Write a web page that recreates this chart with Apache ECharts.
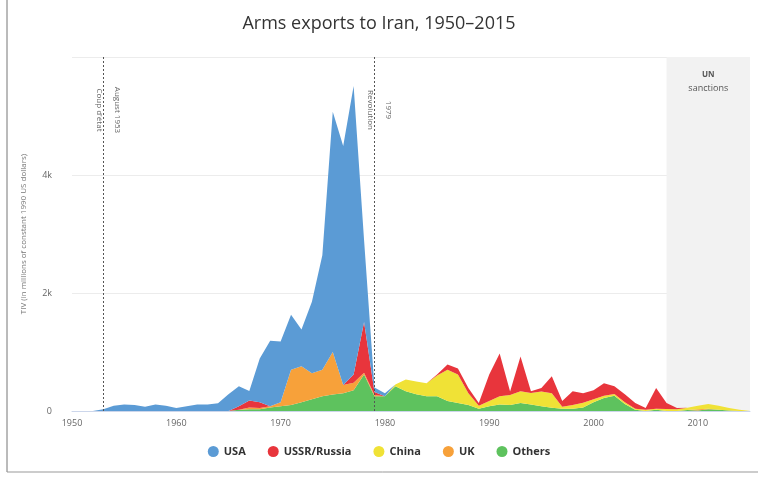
<!DOCTYPE html>
<html>
<head>
<meta charset="utf-8">
<script src="https://cdn.jsdelivr.net/npm/echarts@6/dist/echarts.min.js"></script>
<style>
  html, body { margin: 0; padding: 0; background: #fff; }
  #main { width: 758px; height: 477px; }
</style>
</head>
<body>
<div id="main"></div>
<script>
// years on the x axis
var years = ['1950','1951','1952','1953','1954','1955','1956','1957','1958','1959',
             '1960','1961','1962','1963','1964','1965','1966','1967','1968','1969',
             '1970','1971','1972','1973','1974','1975','1976','1977','1978','1979',
             '1980','1981','1982','1983','1984','1985','1986','1987','1988','1989',
             '1990','1991','1992','1993','1994','1995','1996','1997','1998','1999',
             '2000','2001','2002','2003','2004','2005','2006','2007','2008','2009',
             '2010','2011','2012','2013','2014','2015'];

// TIV, millions
var usa = [0,0,0,30,90,110,100,70,110,90,
           50,80,110,110,130,285,340,160,740,1110,
           1030,930,620,1210,1940,4070,4050,4890,1390,80,
           50,0,0,0,0,0,0,0,0,0,
           0,0,0,0,0,0,0,0,0,0,
           0,0,0,0,0,0,0,0,0,0,
           0,0,0,0,0,0];
var ussr = [0,0,0,0,0,0,0,0,0,0,
            0,0,0,0,0,0,60,120,100,0,
            0,0,0,0,0,0,0,140,860,50,
            0,0,0,0,0,20,90,100,90,45,
            450,725,60,590,30,60,290,100,236,160,
            150,210,130,135,95,30,350,100,20,0,
            0,0,0,0,0,0];
var china = [0,0,0,0,0,0,0,0,0,0,
             0,0,0,0,0,0,0,0,0,0,
             0,0,0,0,0,0,0,0,0,0,
             0,30,200,215,220,350,530,485,200,50,
             90,140,170,200,196,250,245,30,60,80,
             50,40,30,30,20,20,20,35,30,40,
             60,80,70,40,20,0];
var uk = [0,0,0,0,0,0,0,0,0,0,
          0,0,0,0,0,0,0,30,20,20,
          70,600,610,440,450,720,140,130,30,20,
          0,0,0,0,0,0,0,0,0,0,
          0,0,0,0,0,0,0,0,0,0,
          0,0,0,0,0,0,0,0,0,0,
          20,10,0,0,0,0];
var others = [0,0,0,0,0,0,0,0,0,0,
              0,0,0,0,0,0,20,30,30,60,
              80,100,150,200,250,280,300,350,620,250,
              250,420,336,285,250,250,170,135,100,40,
              80,110,100,135,110,80,55,40,40,60,
              150,220,260,120,20,0,20,0,0,15,
              10,30,20,10,0,0];

var events = [['1953', "Coup d'état", 'August 1953'], ['1979', 'Revolution', '1979']];
var embargo = ['2007', '2015'];

var names = ['USA', 'USSR/Russia', 'China', 'UK', 'Others'];
var colors = {'USA': '#5b9bd5', 'USSR/Russia': '#e8353c', 'China': '#f0e236', 'UK': '#f7a13a', 'Others': '#5ec25e'};

function area(name, vals) {
  return {
    name: name,
    type: 'line',
    stack: 'total',
    data: vals,
    showSymbol: false,
    symbol: 'none',
    lineStyle: { width: 0 },
    areaStyle: { color: colors[name], opacity: 1 },
    itemStyle: { color: colors[name] },
    z: 3
  };
}

var myChart = echarts.init(document.getElementById('main'));

var series = [
  // plot band behind the data
  {
    name: 'band',
    type: 'line',
    data: [],
    z: 1,
    markArea: {
      silent: true,
      itemStyle: { color: '#f2f2f2' },
      label: {
        position: 'insideTop',
        distance: 10,
        formatter: '{a|UN}\n{b|sanctions}',
        rich: {
          a: { fontSize: 8, fontWeight: 'bold', color: '#555', lineHeight: 15, fontFamily: 'Open Sans' },
          b: { fontSize: 9, color: '#555', lineHeight: 13, fontFamily: 'Open Sans' }
        }
      },
      data: [[{ xAxis: embargo[0] }, { xAxis: embargo[1] }]]
    }
  },
  area('Others', others),
  area('UK', uk),
  area('China', china),
  area('USSR/Russia', ussr),
  area('USA', usa)
];

series[series.length - 1].markLine = {
  silent: true,
  symbol: 'none',
  label: { show: false },
  lineStyle: { color: '#555', type: [2, 2], width: 1 },
  data: events.map(function (e) { return { xAxis: e[0] }; }),
  z: 5
};

var option = {
  backgroundColor: '#fff',
  animation: false,
  title: {
    text: 'Arms exports to Iran, 1950–2015',
    left: 'center',
    top: 10,
    textStyle: { fontSize: 18, fontWeight: 'normal', color: '#333', fontFamily: 'Open Sans' }
  },
  legend: {
    data: names,
    bottom: 15,
    left: 'center',
    icon: 'circle',
    itemWidth: 11,
    itemHeight: 11,
    itemGap: 22,
    textStyle: { fontSize: 11, fontWeight: 'bold', color: '#333', fontFamily: 'Open Sans' }
  },
  grid: { left: 72, right: 8, top: 57, bottom: 66 },
  xAxis: {
    type: 'category',
    data: years,
    boundaryGap: false,
    axisLine: { lineStyle: { color: '#ccd6eb' } },
    axisTick: { show: false },
    splitLine: { show: false },
    axisLabel: {
      color: '#666', fontSize: 9, margin: 8, fontFamily: 'Open Sans',
      interval: function (i, v) { return Number(v) % 10 === 0; }
    }
  },
  yAxis: {
    type: 'value',
    min: 0,
    max: 6000,
    interval: 2000,
    name: 'TIV (in millions of constant 1990 US dollars)',
    nameLocation: 'middle',
    nameGap: 44,
    nameTextStyle: { color: '#777', fontSize: 8, fontFamily: 'Open Sans' },
    axisLine: { show: false },
    axisTick: { show: false },
    splitLine: { lineStyle: { color: '#ececec' } },
    axisLabel: {
      color: '#666', fontSize: 9, margin: 20, fontFamily: 'Open Sans',
      formatter: function (v) { return v === 0 ? '0' : (v >= 6000 ? '' : (v / 1000) + 'k'); }
    }
  },
  graphic: [
    { type: 'line', shape: { x1: 7, y1: 0, x2: 7, y2: 472 }, style: { stroke: '#777', lineWidth: 1 } },
    { type: 'line', shape: { x1: 7, y1: 472, x2: 758, y2: 472 }, style: { stroke: '#999', lineWidth: 1 } }
  ],
  series: series
};

myChart.setOption(option);

// rotated labels for the plot lines
var labels = [];
events.forEach(function (e) {
  var px = myChart.convertToPixel({ gridIndex: 0 }, [e[0], 5000]);
  [[e[1], -4], [e[2], 14]].forEach(function (t) {
    labels.push({
      type: 'text',
      x: px[0] + t[1],
      y: 110,
      rotation: -Math.PI / 2,
      style: {
        text: t[0],
        fill: '#666',
        fontSize: 8,
        fontFamily: 'Open Sans',
        textAlign: 'center',
        textVerticalAlign: 'middle'
      },
      z: 10
    });
  });
});
myChart.setOption({ graphic: option.graphic.concat(labels) });
</script>
</body>
</html>
